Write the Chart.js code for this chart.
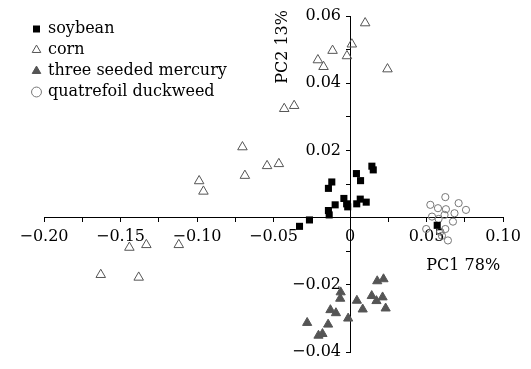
<!DOCTYPE html>
<html><head><meta charset="utf-8">
<script src="https://cdn.jsdelivr.net/npm/chart.js@4/dist/chart.umd.min.js"></script>
<style>html,body{margin:0;padding:0;background:#fff}#wrap{width:531px;height:369px}</style>
</head><body><div id="wrap"><canvas id="c" width="531" height="369"></canvas></div>
<script>
const seriesNames = ['soybean', 'corn', 'three seeded mercury', 'quatrefoil duckweed'];
const xTitle = 'PC1 78%';
const yTitle = 'PC2 13%';
const xTickValues = [-0.20, -0.15, -0.10, -0.05, 0, 0.05, 0.10];
const yTickValues = [-0.04, -0.02, 0.02, 0.04, 0.06];

const soybeanX = [0.0143, 0.0152, 0.0042, 0.0069, -0.0119, -0.0141, -0.0040, -0.0097, -0.0022, -0.0015, 0.0067, 0.0044, 0.0106, -0.0141, -0.0136, -0.0265, -0.0330, 0.0570];
const soybeanY = [0.0153, 0.0142, 0.0131, 0.0110, 0.0106, 0.0087, 0.0057, 0.0038, 0.0041, 0.0032, 0.0055, 0.0041, 0.0046, 0.0021, 0.0008, -0.0007, -0.0026, -0.0023];

const cornX = [0.0099, 0.0012, -0.0114, -0.0020, -0.0210, -0.0173, 0.0245, -0.0430, -0.0365, -0.0703, -0.0542, -0.0465, -0.0687, -0.0986, -0.0958, -0.1442, -0.1331, -0.1119, -0.1629, -0.1381];
const cornY = [0.0579, 0.0516, 0.0497, 0.0481, 0.0469, 0.0449, 0.0442, 0.0324, 0.0333, 0.0210, 0.0154, 0.0160, 0.0125, 0.0109, 0.0078, -0.0089, -0.0081, -0.0081, -0.0170, -0.0178];

const mercuryX = [0.0178, 0.0219, -0.0061, -0.0064, 0.0142, 0.0213, 0.0045, 0.0173, 0.0083, 0.0233, -0.0128, -0.0092, -0.0012, -0.0280, -0.0143, -0.0180, -0.0206];
const mercuryY = [-0.0189, -0.0183, -0.0222, -0.0241, -0.0233, -0.0237, -0.0247, -0.0248, -0.0273, -0.0270, -0.0275, -0.0284, -0.0300, -0.0313, -0.0318, -0.0346, -0.0351];

const duckweedX = [0.0623, 0.0710, 0.0525, 0.0575, 0.0627, 0.0683, 0.0758, 0.0618, 0.0536, 0.0673, 0.0579, 0.0498, 0.0623, 0.0590, 0.0601, 0.0640];
const duckweedY = [0.0061, 0.0043, 0.0038, 0.0028, 0.0025, 0.0013, 0.0023, 0.0008, 0.0003, -0.0012, -0.0004, -0.0034, -0.0034, -0.0042, -0.0054, -0.0068];

const pts = (xs, ys) => xs.map((v, i) => ({x: v, y: ys[i]}));
const minus = '\u2212';
const fmt = v => v === 0 ? '0' : (v < 0 ? minus : '') + Math.abs(v).toFixed(2);

Chart.defaults.font.family = '"DejaVu Serif", serif';
Chart.defaults.font.size = 16;
Chart.defaults.color = '#000';

const axisTitles = {
  id: 'axisTitles',
  afterDraw(chart) {
    const {ctx, scales: {x, y}} = chart;
    ctx.save();
    ctx.font = '16px "DejaVu Serif", serif';
    ctx.fillStyle = '#000';
    ctx.textAlign = 'center';
    ctx.textBaseline = 'middle';
    ctx.fillText(xTitle, x.getPixelForValue(0.074), y.getPixelForValue(-0.0145));
    ctx.translate(x.getPixelForValue(-0.0437), y.getPixelForValue(0.0508));
    ctx.rotate(-Math.PI / 2);
    ctx.fillText(yTitle, 0, 0);
    ctx.restore();
  }
};
// Move the left-positioned y scale so that it crosses the x axis at x = 0
const crossAxes = {
  id: 'crossAxes',
  afterLayout(chart) {
    const ys = chart.scales.y;
    const px = chart.scales.x.getPixelForValue(0);
    ys.left = px - 70;
    ys.right = px;
    const l = chart.legend;
    if (l) { l.left = chart.chartArea.left - 16; l.top = chart.chartArea.top; }
  }
};

new Chart(document.getElementById('c'), {
  type: 'scatter',
  data: {
    datasets: [
      {label: seriesNames[0], data: pts(soybeanX, soybeanY), pointStyle: 'rect', pointRadius: 5, backgroundColor: '#000', borderColor: '#000', borderWidth: 0},
      {label: seriesNames[1], data: pts(cornX, cornY), pointStyle: 'triangle', pointRadius: 5.5, backgroundColor: 'rgba(255,255,255,0)', borderColor: '#555', borderWidth: 1},
      {label: seriesNames[2], data: pts(mercuryX, mercuryY), pointStyle: 'triangle', pointRadius: 5.3, backgroundColor: '#555', borderColor: '#555', borderWidth: 1},
      {label: seriesNames[3], data: pts(duckweedX, duckweedY), pointStyle: 'circle', pointRadius: 3.6, backgroundColor: 'rgba(255,255,255,0)', borderColor: '#777', borderWidth: 1}
    ]
  },
  options: {
    responsive: false,
    devicePixelRatio: 1,
    animation: false,
    events: [],
    layout: {padding: {left: 44, right: 28, top: 16, bottom: 17}},
    plugins: {
      legend: {
        position: 'chartArea',
        align: 'start',
        labels: {usePointStyle: true, boxWidth: 7, boxHeight: 7, padding: 5, color: '#000', font: {size: 16}}
      },
      tooltip: {enabled: false}
    },
    scales: {
      x: {
        type: 'linear', min: -0.2, max: 0.1, position: {y: 0},
        ticks: {stepSize: 0.025, autoSkip: false, maxRotation: 0, padding: 6, color: '#000',
          callback: v => { const m = Math.round(v * 1000); return xTickValues.some(t => Math.round(t * 1000) === m) ? fmt(m / 1000) : ''; }},
        grid: {drawOnChartArea: false, drawTicks: true, tickLength: 4, color: '#000'},
        border: {color: '#000', width: 1}
      },
      y: {
        type: 'linear', min: -0.04, max: 0.06, position: 'left',
        afterFit: s => { s.width = 0; },
        ticks: {stepSize: 0.01, autoSkip: false, padding: 5, color: '#000',
          callback: v => { const m = Math.round(v * 100); return yTickValues.some(t => Math.round(t * 100) === m) ? fmt(m / 100) : ''; }},
        grid: {drawOnChartArea: false, drawTicks: true, tickLength: 4, color: '#000'},
        border: {color: '#000', width: 1}
      }
    }
  },
  plugins: [axisTitles, crossAxes]
});
</script></body></html>
